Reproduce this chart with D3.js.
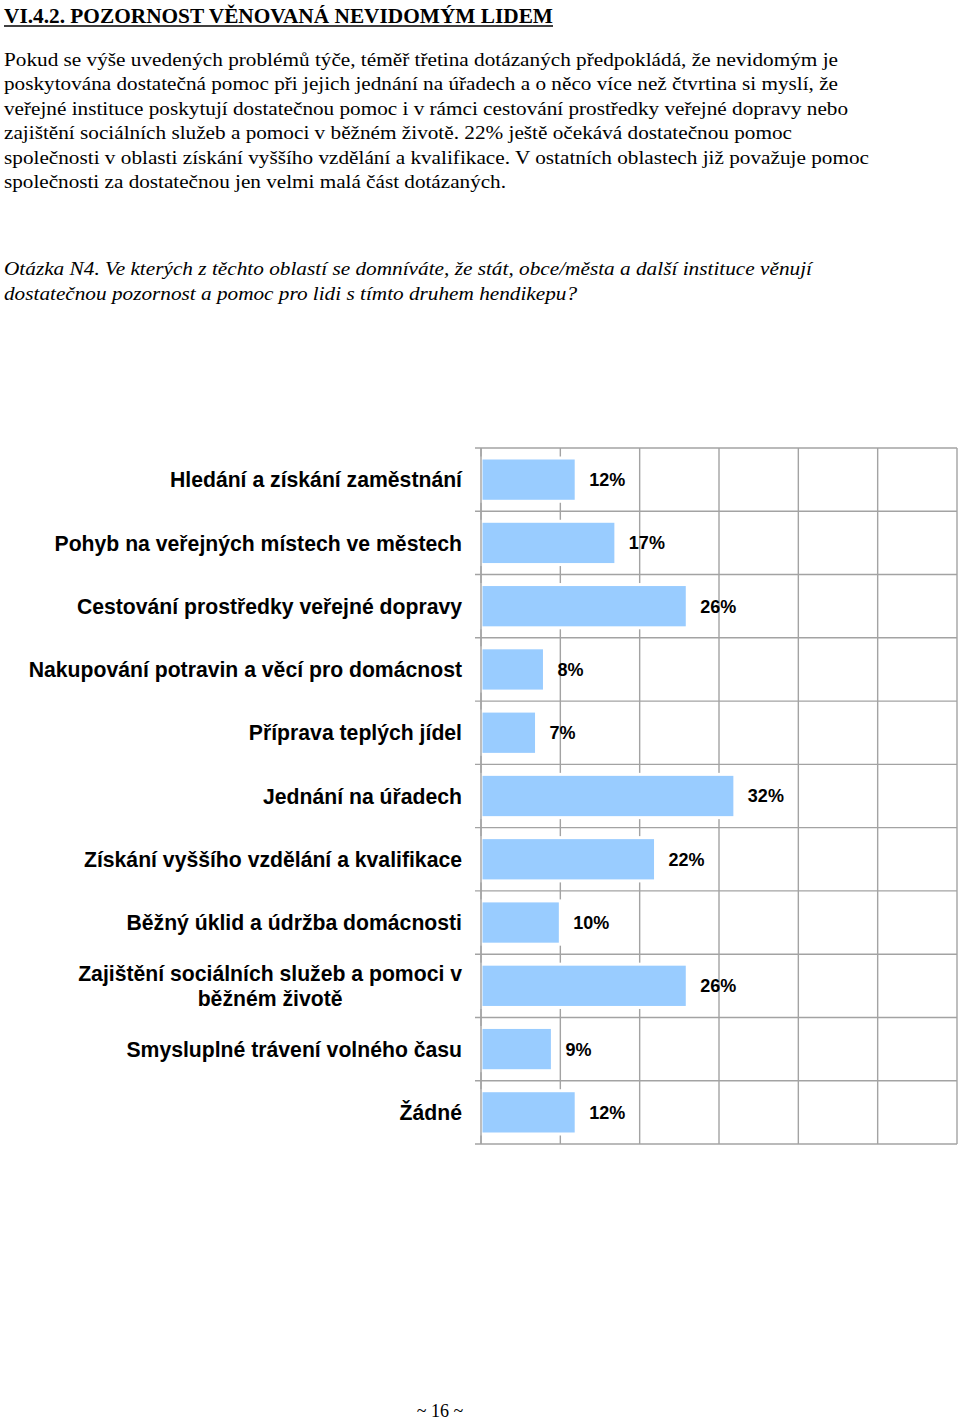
<!DOCTYPE html>
<html><head><meta charset="utf-8">
<script src="https://cdn.jsdelivr.net/npm/d3@7"></script>
<style>body{margin:0;background:#fff}svg{display:block}</style>
</head><body>
<svg id="c" width="960" height="1420"></svg>
<script>
const titleText = "VI.4.2. POZORNOST VĚNOVANÁ NEVIDOMÝM LIDEM";
const paragraphLines = [
  "Pokud se výše uvedených problémů týče, téměř třetina dotázaných předpokládá, že nevidomým je",
  "poskytována dostatečná pomoc při jejich jednání na úřadech a o něco více než čtvrtina si myslí, že",
  "veřejné instituce poskytují dostatečnou pomoc i v rámci cestování prostředky veřejné dopravy nebo",
  "zajištění sociálních služeb a pomoci v běžném životě. 22% ještě očekává dostatečnou pomoc",
  "společnosti v oblasti získání vyššího vzdělání a kvalifikace. V ostatních oblastech již považuje pomoc",
  "společnosti za dostatečnou jen velmi malá část dotázaných."
];
const paragraphWidths = [834, 834, 844, 788, 865, 502];
const questionLines = [
  "Otázka N4. Ve kterých z těchto oblastí se domníváte, že stát, obce/města a další instituce věnují",
  "dostatečnou pozornost a pomoc pro lidi s tímto druhem hendikepu?"
];
const questionWidths = [808, 573];
const categories = [
  "Hledání a získání zaměstnání",
  "Pohyb na veřejných místech ve městech",
  "Cestování prostředky veřejné dopravy",
  "Nakupování potravin a věcí pro domácnost",
  "Příprava teplých jídel",
  "Jednání na úřadech",
  "Získání vyššího vzdělání a kvalifikace",
  "Běžný úklid a údržba domácnosti",
  "Zajištění sociálních služeb a pomoci v|běžném životě",
  "Smysluplné trávení volného času",
  "Žádné"
];
const values = [12, 17, 26, 8, 7, 32, 22, 10, 26, 9, 12];
const xTicks = [0, 10, 20, 30, 40, 50, 60];
const pageNumber = "~ 16 ~";

const svg = d3.select("#c");
svg.append("rect").attr("width", 960).attr("height", 1420).attr("fill", "#fff");

// Title
svg.append("text").attr("x", 4).attr("y", 23)
  .attr("font-family", "Liberation Serif, Times New Roman, serif")
  .attr("font-weight", "bold").attr("font-size", 20)
  .attr("textLength", 549).attr("lengthAdjust", "spacingAndGlyphs")
  .text(titleText);
svg.append("line").attr("x1", 4).attr("x2", 553).attr("y1", 26).attr("y2", 26)
  .attr("stroke", "#000").attr("stroke-width", 1.3);

// Paragraph
svg.append("g").selectAll("text").data(paragraphLines).join("text")
  .attr("x", 4).attr("y", (d, i) => 66 + i * 24.4)
  .attr("font-family", "Liberation Serif, Times New Roman, serif")
  .attr("font-size", 19.5)
  .attr("textLength", (d, i) => paragraphWidths[i]).attr("lengthAdjust", "spacingAndGlyphs")
  .text(d => d);

svg.append("g").selectAll("text").data(questionLines).join("text")
  .attr("x", 4).attr("y", (d, i) => 275 + i * 24.5)
  .attr("font-family", "Liberation Serif, Times New Roman, serif")
  .attr("font-style", "italic")
  .attr("font-size", 19.5)
  .attr("textLength", (d, i) => questionWidths[i]).attr("lengthAdjust", "spacingAndGlyphs")
  .text(d => d);

// Chart
const x = d3.scaleLinear().domain([0, 60]).range([481, 957]);
const y = d3.scaleBand().domain(categories).range([448, 1144]).paddingInner(0.316).paddingOuter(0.158);
const step = y.step();
const gridColor = "#a3a3a3";

const grid = svg.append("g");
grid.selectAll("line.v").data(xTicks).join("line").attr("class", "v")
  .attr("x1", d => x(d)).attr("x2", d => x(d)).attr("y1", 448).attr("y2", 1144)
  .attr("stroke", gridColor).attr("stroke-width", 1.4);
const rowLines = d3.range(categories.length + 1).map(i => 448 + i * step);
grid.selectAll("line.h").data(rowLines).join("line").attr("class", "h")
  .attr("x1", 475).attr("x2", 957).attr("y1", d => d).attr("y2", d => d)
  .attr("stroke", gridColor).attr("stroke-width", 1.4);

svg.append("g").selectAll("rect").data(values).join("rect")
  .attr("x", x(0)).attr("y", (d, i) => y(categories[i]))
  .attr("width", d => x(d) - x(0)).attr("height", y.bandwidth())
  .attr("fill", "#99ccff").attr("stroke", "#fff").attr("stroke-width", 3);

svg.append("line").attr("x1", x(0)).attr("x2", x(0)).attr("y1", 448).attr("y2", 1144)
  .attr("stroke", gridColor).attr("stroke-width", 1.4);

svg.append("g").selectAll("text").data(values).join("text")
  .attr("x", d => x(d) + 13).attr("y", (d, i) => y(categories[i]) + y.bandwidth() / 2)
  .attr("dy", "0.36em")
  .attr("font-family", "Liberation Sans, Arial, sans-serif")
  .attr("font-weight", "bold").attr("font-size", 18)
  .text(d => d + "%");

const labels = svg.append("g")
  .attr("font-family", "Liberation Sans, Arial, sans-serif")
  .attr("font-weight", "bold").attr("font-size", 21.2);
categories.forEach((c, i) => {
  const lines = c.split("|");
  const cy = y(c) + y.bandwidth() / 2;
  if (lines.length === 1) {
    labels.append("text").attr("x", 462).attr("y", cy).attr("dy", "0.36em")
      .attr("text-anchor", "end").text(c);
  } else {
    const g = labels.append("g");
    const ts = lines.map((l, j) => g.append("text")
      .attr("y", cy + (j - (lines.length - 1) / 2) * 25).attr("dy", "0.36em")
      .attr("text-anchor", "middle").text(l));
    const w = d3.max(ts, s => s.node().getComputedTextLength());
    ts.forEach(s => s.attr("x", 462 - w / 2));
  }
});

svg.append("text").attr("x", 440).attr("y", 1417)
  .attr("text-anchor", "middle")
  .attr("font-family", "Liberation Serif, Times New Roman, serif")
  .attr("font-size", 18).text(pageNumber);
</script>
</body></html>
